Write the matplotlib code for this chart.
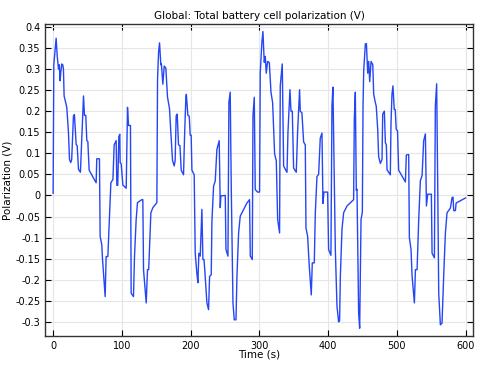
import matplotlib
matplotlib.use("Agg")
import matplotlib.pyplot as plt
from matplotlib.ticker import MultipleLocator, FormatStrFormatter

# time (s) and polarization (V)
time_s = [0, 1, 4.4, 6, 7.8, 9, 10.2, 11, 12.6, 14, 15, 16, 19.9, 22.3, 23.8, 25.6, 27,
          29.6, 31, 33.5, 35, 36.9, 39.7, 41.7, 44.2, 45.6, 47.5, 49, 50.5, 52.4, 62.6,
          63.5, 67.4, 68.4, 70.8, 71.8, 75.7, 77.1, 79.6, 82, 84, 87, 88.8, 91.7, 92.7,
          94, 95.6, 97, 97.5, 99, 101.4, 106.3, 108.2, 109.7, 112.5, 113.5, 116.9, 118.4,
          120.8, 122.7, 129, 130.5, 131.5, 135.4, 137.3, 139, 142.2, 145.1, 150.9, 151.9,
          153.4, 154.8, 156.7, 157.5, 159.6, 161.6, 164, 166.4, 169.3, 171.2, 173.7,
          176.1, 177.5, 179, 180.5, 182.4, 184.5, 186.3, 189.7, 191.1, 193.1, 193.8,
          196, 198, 199.4, 200.8, 201.9, 205.2, 206.7, 209.1, 210.6, 212, 214, 216.4,
          217.9, 219.5, 221.2, 223.7, 226.1, 227.6, 230, 231, 233.4, 235.8, 238.2,
          241.6, 243.1, 244, 250.4, 251.4, 254.3, 255.7, 257.6, 259.1, 261.6, 263.5,
          266, 267.4, 269.8, 272.2, 275, 281.9, 285.7, 286.8, 289.7, 290.7, 292.6, 294,
          297.4, 300.3, 301.3, 303.7, 305.2, 307.1, 308.6, 310, 312, 314.5, 316.9,
          319.3, 322.2, 324.6, 326.6, 329.4, 330.4, 333.3, 335.3, 337.7, 340.2, 341.6,
          344.5, 346, 347.9, 349.8, 353.7, 355.6, 358.5, 359.5, 361.9, 364.4, 366.8,
          367.8, 370.2, 372.6, 375.5, 377, 379.9, 381.4, 383.8, 386.2, 388.6, 391.1,
          392.5, 393.9, 399.3, 400.7, 404.1, 405.6, 407, 409, 410.5, 412.9, 415.3,
          416.7, 417.8, 420.2, 422.6, 427.5, 437.1, 438.1, 439.6, 441, 442, 444.4,
          445.9, 447.9, 449.8, 450.8, 451.8, 454.2, 455.7, 457.6, 459, 460.5, 462.5,
          465, 466.3, 468.7, 470, 472.1, 473.5, 476, 478.4, 479.4, 481.8, 483.3, 484.7,
          485.7, 490.5, 491.5, 492.9, 494.3, 496.2, 497.6, 499.1, 501, 502.6, 512.4,
          513.8, 517.2, 518.2, 520.6, 522.1, 525.5, 527, 529.4, 531.8, 534.2, 536.7,
          539, 541.5, 543, 544.9, 550.2, 551.2, 554.6, 556, 557.9, 559.4, 560.9, 563.3,
          565.7, 568.1, 570.6, 573, 577.9, 580.3, 581.7, 582.7, 585.2, 586.2, 599.8]

polarization = [0.005, 0.31, 0.373, 0.33, 0.30, 0.31, 0.272, 0.29, 0.312, 0.31, 0.30, 0.236,
                0.209, 0.15, 0.086, 0.078, 0.085, 0.189, 0.192, 0.121, 0.118, 0.062, 0.055,
                0.134, 0.236, 0.19, 0.19, 0.13, 0.128, 0.06, 0.030, 0.087, 0.087, -0.097,
                -0.117, -0.15, -0.24, -0.145, -0.145, -0.049, 0.03, 0.038, 0.12, 0.13, 0.024,
                0.024, 0.14, 0.145, 0.078, 0.075, 0.025, 0.017, 0.209, 0.166, 0.166, -0.232,
                -0.24, -0.144, -0.057, -0.017, -0.01, -0.01, -0.176, -0.255, -0.176, -0.176,
                -0.041, -0.029, -0.017, 0.276, 0.34, 0.362, 0.31, 0.312, 0.264, 0.307, 0.302,
                0.233, 0.206, 0.15, 0.083, 0.07, 0.083, 0.189, 0.193, 0.12, 0.118, 0.06,
                0.049, 0.136, 0.233, 0.24, 0.19, 0.188, 0.143, 0.143, 0.06, 0.049, -0.137,
                -0.185, -0.207, -0.137, -0.144, -0.033, -0.152, -0.152, -0.192, -0.255,
                -0.271, -0.192, -0.188, -0.061, 0.022, 0.034, 0.109, 0.13, -0.029, -0.001,
                0.0, -0.128, -0.144, 0.221, 0.245, 0.022, -0.255, -0.295, -0.295, -0.192,
                -0.089, -0.049, -0.04, -0.018, -0.01, -0.144, -0.152, 0.189, 0.233, 0.014,
                0.008, 0.008, 0.292, 0.364, 0.389, 0.316, 0.33, 0.29, 0.318, 0.315, 0.245,
                0.22, 0.098, 0.083, -0.057, -0.089, 0.26, 0.312, 0.07, 0.062, 0.055, 0.15,
                0.251, 0.2, 0.2, 0.065, 0.055, 0.15, 0.251, 0.2, 0.196, 0.127, 0.12, -0.077,
                -0.097, -0.168, -0.236, -0.16, -0.16, -0.041, 0.045, 0.05, 0.136, 0.148,
                -0.019, 0.008, 0.008, -0.128, -0.142, 0.213, 0.257, 0.03, -0.128, -0.263,
                -0.3, -0.297, -0.192, -0.08, -0.041, -0.025, -0.01, 0.181, 0.245, 0.012,
                0.015, -0.279, -0.315, -0.057, -0.04, 0.213, 0.297, 0.36, 0.36, 0.29, 0.318,
                0.27, 0.318, 0.31, 0.24, 0.22, 0.212, 0.158, 0.092, 0.076, 0.085, 0.193,
                0.2, 0.125, 0.12, 0.061, 0.049, 0.172, 0.24, 0.26, 0.204, 0.204, 0.157,
                0.153, 0.06, 0.032, 0.096, 0.097, -0.1, -0.128, -0.19, -0.255, -0.176,
                -0.176, -0.057, 0.035, 0.047, 0.13, 0.146, -0.025, 0.003, 0.003, -0.137,
                -0.148, 0.213, 0.265, 0.03, -0.232, -0.307, -0.303, -0.192, -0.089, -0.041,
                -0.03, -0.005, -0.004, -0.036, -0.036, -0.018, -0.006]

fig = plt.figure(figsize=(4.81, 3.65), dpi=100)
ax = fig.add_axes([0.094, 0.080, 0.889, 0.853])

ax.plot(time_s, polarization, color="#2546f5", lw=1.0)

ax.set_xlim(-11.5, 610.5)
ax.set_ylim(-0.333, 0.4057)
ax.xaxis.set_major_locator(MultipleLocator(100))
ax.yaxis.set_major_locator(MultipleLocator(0.05))
ax.yaxis.set_major_formatter(plt.FuncFormatter(lambda v, p: "%g" % round(v, 3)))

ax.grid(True, color="#e6e6e6", lw=0.8)
ax.set_axisbelow(True)
ax.tick_params(direction="in", top=True, right=True, labelsize=7, length=4, width=0.8)
for s in ax.spines.values():
    s.set_linewidth(1.0)
    s.set_color("#333333")

ax.set_title("Global: Total battery cell polarization (V)", fontsize=7.5, pad=4)
ax.set_xlabel("Time (s)", fontsize=7.5, labelpad=-1)
ax.set_ylabel("Polarization (V)", fontsize=7.5, labelpad=2)

fig.savefig("out.png", dpi=100)
